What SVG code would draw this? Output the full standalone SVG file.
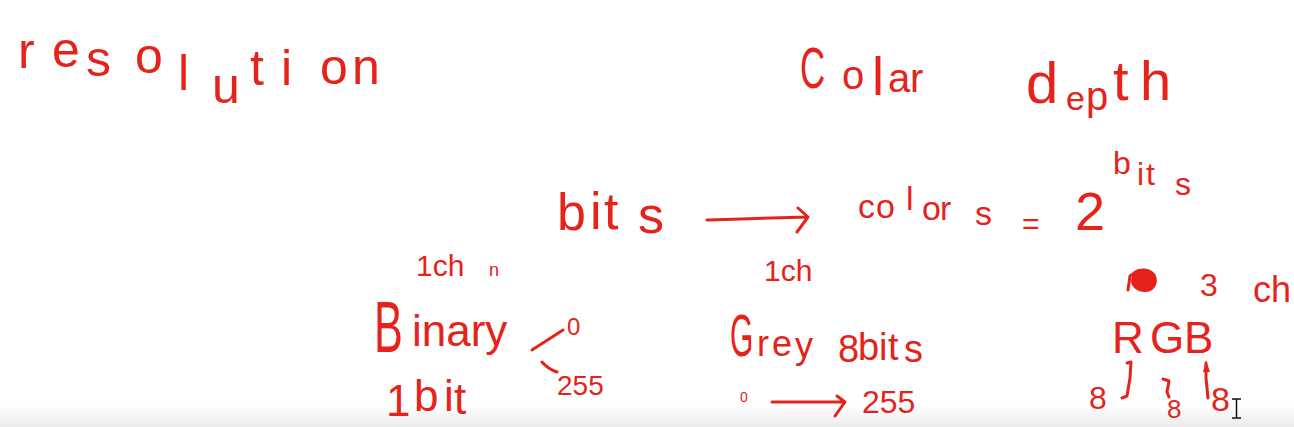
<svg xmlns="http://www.w3.org/2000/svg" width="1294" height="427" viewBox="0 0 1294 427">
<style>
.h{fill:#e5231a;font-family:"Liberation Sans",Arial,sans-serif;}
.s{fill:none;stroke:#e5231a;stroke-width:3;stroke-linecap:round;stroke-linejoin:round;}
</style>
<defs>
<linearGradient id="bar" x1="0" y1="0" x2="0" y2="1">
<stop offset="0" stop-color="#ffffff"/>
<stop offset="1" stop-color="#ebebeb"/>
</linearGradient>
</defs>
<rect width="1294" height="427" fill="#ffffff"/>
<rect x="0" y="405" width="1294" height="22" fill="url(#bar)"/>

<g id="resolution">
<text class="h" font-size="50" x="18 52 86 135 178 212 250 281 320 352" y="68 67 76 73 90 103 85 85 84 84">resolution</text>
</g>

<g id="color-depth">
<text class="h" font-size="58" transform="translate(800,88) scale(0.6,1)">C</text>
<text class="h" font-size="40"><tspan x="842" y="89">o</tspan><tspan x="872" y="95" font-size="54">l</tspan><tspan x="888" y="92">a</tspan><tspan x="910" y="92">r</tspan></text>
<text class="h" font-size="40"><tspan x="1026" y="103" font-size="58">d</tspan><tspan x="1066" y="110" font-size="34">e</tspan><tspan x="1086" y="110">p</tspan><tspan x="1113" y="100" font-size="56">t</tspan><tspan x="1140" y="100" font-size="56">h</tspan></text>
</g>

<g id="formula">
<text class="h" font-size="52" x="557 590 604 638" y="230 229 229 233">bits</text>
<path class="s" d="M707,220 C740,219 770,218 808,217 M798,208 L808,217 L797,232"/>
<text class="h" font-size="34" x="858 876 906 922 940 975" y="218 218 210 220 220 225">colors</text>
<text class="h" font-size="30" x="1022" y="234">=</text>
<text class="h" font-size="54" x="1075" y="230">2</text>
<text class="h" font-size="32" x="1113 1137 1146 1175" y="174 185 185 195">bits</text>
</g>

<g id="binary">
<text class="h" font-size="30" x="416" y="276">1ch<tspan x="489" y="276" font-size="18">n</tspan></text>
<text class="h" font-size="72" transform="translate(374,352) scale(0.6,1)">B</text>
<text class="h" font-size="44" x="412" y="346">inary</text>
<path class="s" d="M532,350 L563,330 M542,362 Q548,369 557,372"/>
<text class="h" font-size="24" x="567" y="335">0</text>
<text class="h" font-size="28" x="557" y="395">255</text>
<text class="h" font-size="44" x="386 414 444 454" y="416 411 411 414">1bit</text>
</g>

<g id="grey">
<text class="h" font-size="30" x="764" y="281">1ch</text>
<text class="h" font-size="60" transform="translate(730,356) scale(0.5,1)">G</text>
<text class="h" font-size="36" x="757 772 795" y="356 356 358">rey</text>
<text class="h" font-size="38" x="838 858 879 888 904" y="362 360 360 360 362">8bits</text>
<text class="h" font-size="14" x="740" y="402">0</text>
<path class="s" d="M772,402 L845,402 M837,396 L845,402 L835,416"/>
<text class="h" font-size="32" x="862" y="413">255</text>
</g>

<g id="rgb">
<path fill="#e5231a" d="M1133,272 C1140,266 1153,268 1156,276 C1159,284 1154,292 1145,292 C1137,292 1131,287 1131,281 Z"/>
<path class="s" d="M1128,290 L1130,276 L1136,272"/>
<text class="h" font-size="32" x="1200" y="296">3</text>
<text class="h" font-size="36" x="1253" y="302">ch</text>
<text class="h" font-size="44" x="1112 1150 1184" y="353 353 353">RGB</text>
<text class="h" font-size="32" x="1089" y="409">8</text>
<path class="s" d="M1127,363 L1131,362 L1130,378 L1127,396 L1122,398"/>
<path class="s" d="M1163,379 L1169,381 L1167,392 L1169,397"/>
<text class="h" font-size="26" x="1167" y="418">8</text>
<path class="s" d="M1206,363 L1206,378 L1208,398"/>
<path fill="#e5231a" d="M1203,372 L1206,360 L1210,372 Z"/>
<text class="h" font-size="34" x="1211" y="411">8</text>
</g>

<g id="cursor">
<path d="M1232,399 L1241,399 M1236.5,399 L1236.5,418 M1232,418 L1241,418" fill="none" stroke="#111111" stroke-width="1.5"/>
</g>
</svg>
